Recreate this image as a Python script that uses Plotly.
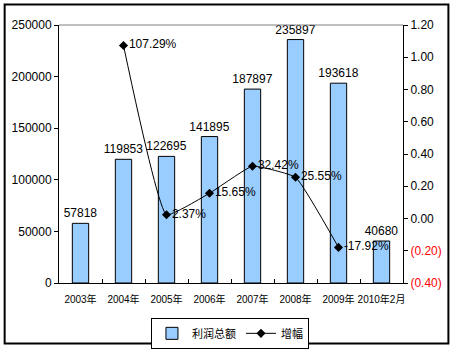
import plotly.graph_objects as go

# Profit totals and year-on-year growth
categories = ["2003年", "2004年", "2005年", "2006年", "2007年", "2008年", "2009年", "2010年2月"]
profit = [57818, 119853, 122695, 141895, 187897, 235897, 193618, 40680]
growth_cats = ["2004年", "2005年", "2006年", "2007年", "2008年", "2009年"]
growth = [1.0729, 0.0237, 0.1565, 0.3242, 0.2555, -0.1792]

right_ticks = [1.2, 1.0, 0.8, 0.6, 0.4, 0.2, 0.0, -0.2, -0.4]


def fmt_ratio(v):
    if v < 0:
        return '<span style="color:#FF0000">(%.2f)</span>' % abs(v)
    return "%.2f" % v


font_main = "Arial, Liberation Sans, Noto Sans CJK SC, sans-serif"

fig = go.Figure()

fig.add_trace(go.Bar(
    x=categories, y=profit, name="利润总额",
    marker=dict(color="#99CCFF", line=dict(color="#000000", width=1)),
    width=0.38,
    text=[str(v) for v in profit], textposition="outside",
    textfont=dict(size=12, color="#000000"),
    constraintext="none",
    cliponaxis=False,
))

fig.add_trace(go.Scatter(
    x=growth_cats, y=growth, name="增幅", yaxis="y2",
    mode="lines+markers+text",
    line=dict(color="#000000", width=1, shape="spline", smoothing=0.35),
    marker=dict(symbol="diamond", size=7, color="#000000"),
    text=["%.2f%%" % (g * 100) for g in growth], textposition="middle right",
    textfont=dict(size=12, color="#000000"),
    cliponaxis=False,
))

fig.update_layout(
    width=454, height=349,
    margin=dict(l=59, r=51, t=25, b=66, autoexpand=False),
    paper_bgcolor="#FFFFFF", plot_bgcolor="#FFFFFF",
    font=dict(family=font_main, size=12, color="#000000"),
    showlegend=True,
    bargap=0.62,
    xaxis=dict(
        type="category", categoryorder="array", categoryarray=categories,
        showgrid=False, showline=True, linecolor="#000000", linewidth=1,
        ticks="inside", ticklen=4, tickcolor="#000000", tickson="boundaries",
        tickfont=dict(size=10), tickangle=0, ticklabelstandoff=7,
        zeroline=False, automargin=False,
    ),
    yaxis=dict(
        range=[0, 250000], dtick=50000, tickformat="d",
        showgrid=False, showline=True, linecolor="#000000", linewidth=1,
        ticks="outside", ticklen=4, tickcolor="#000000",
        tickfont=dict(size=12), zeroline=False, automargin=False,
    ),
    yaxis2=dict(
        overlaying="y", side="right", range=[-0.4, 1.2],
        tickvals=right_ticks, ticktext=[fmt_ratio(v) for v in right_ticks],
        showgrid=False, showline=True, linecolor="#000000", linewidth=1,
        ticks="outside", ticklen=4, tickcolor="#000000",
        tickfont=dict(size=12), zeroline=False, automargin=False,
    ),
    legend=dict(
        orientation="h", x=0.497, xanchor="center", y=-0.135, yanchor="top",
        bordercolor="#000000", borderwidth=1, bgcolor="#FFFFFF",
        font=dict(size=11), itemwidth=30, tracegroupgap=0,
    ),
    shapes=[
        # top edge of the plot area
        dict(type="line", xref="paper", yref="paper", x0=0, x1=1, y0=1, y1=1,
             line=dict(color="#808080", width=1)),
        # outer chart frame
        dict(type="rect", xref="paper", yref="paper",
             x0=-0.158, x1=1.132, y0=-0.2345, y1=1.0795,
             line=dict(color="#000000", width=2), layer="below"),
    ],
)

fig.write_html("out.html")
